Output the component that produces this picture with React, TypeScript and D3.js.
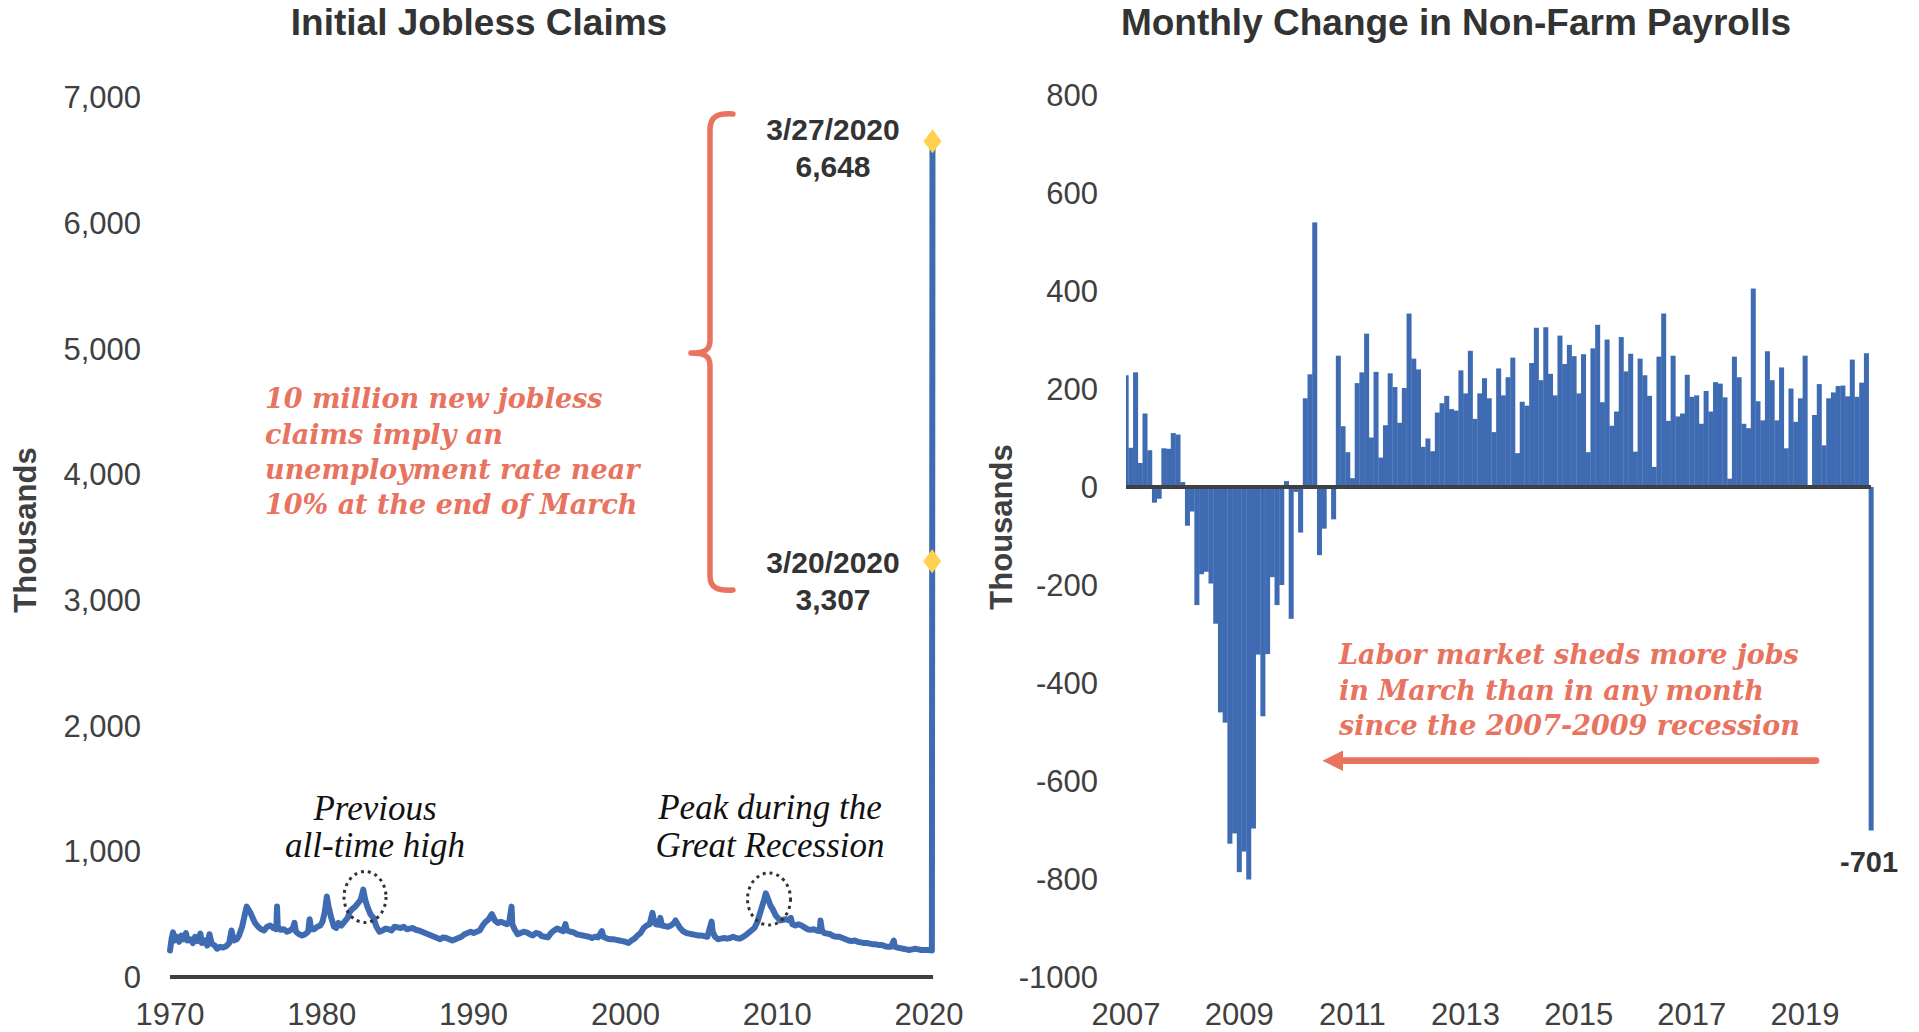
import React from 'react';
import * as d3 from 'd3';

// ---------- Data: Initial Jobless Claims (thousands) ----------
const claimsYears = [
  1970.00, 1970.10, 1970.20, 1970.30, 1970.45, 1970.60, 1970.75, 1970.90,
  1971.05, 1971.15, 1971.35, 1971.50, 1971.65, 1971.80,
  1972.00, 1972.10, 1972.30, 1972.45, 1972.60, 1972.75, 1972.95,
  1973.10, 1973.30, 1973.50, 1973.70, 1973.90,
  1974.05, 1974.20, 1974.40, 1974.55, 1974.75, 1974.90,
  1975.05, 1975.15, 1975.30, 1975.45, 1975.60, 1975.80,
  1976.00, 1976.20, 1976.40, 1976.60, 1976.80,
  1977.00, 1977.05, 1977.10, 1977.30, 1977.50, 1977.70, 1977.90,
  1978.10, 1978.20, 1978.30, 1978.50, 1978.70, 1978.90,
  1979.10, 1979.20, 1979.30, 1979.50, 1979.70, 1979.90,
  1980.05, 1980.20, 1980.33, 1980.45, 1980.60, 1980.80, 1980.95,
  1981.10, 1981.30, 1981.50, 1981.70, 1981.85,
  1982.00, 1982.20, 1982.40, 1982.55, 1982.73, 1982.85,
  1983.00, 1983.20, 1983.40, 1983.60, 1983.80,
  1984.00, 1984.20, 1984.40, 1984.60, 1984.80,
  1985.00, 1985.20, 1985.40, 1985.60, 1985.80,
  1986.00, 1986.20, 1986.40, 1986.60, 1986.80,
  1987.00, 1987.20, 1987.40, 1987.60, 1987.80,
  1988.00, 1988.20, 1988.40, 1988.60, 1988.80,
  1989.00, 1989.20, 1989.40, 1989.60, 1989.80,
  1990.00, 1990.20, 1990.40, 1990.60, 1990.80,
  1991.00, 1991.20, 1991.40, 1991.60, 1991.80,
  1992.00, 1992.20, 1992.35, 1992.50, 1992.55, 1992.70, 1992.90,
  1993.10, 1993.30, 1993.50, 1993.70, 1993.90,
  1994.10, 1994.30, 1994.50, 1994.70, 1994.90,
  1995.10, 1995.30, 1995.50, 1995.70, 1995.90,
  1996.05, 1996.15, 1996.40, 1996.60, 1996.80,
  1997.00, 1997.20, 1997.40, 1997.60, 1997.80,
  1998.00, 1998.20, 1998.45, 1998.55, 1998.80,
  1999.00, 1999.20, 1999.40, 1999.60, 1999.80,
  2000.00, 2000.20, 2000.40, 2000.60, 2000.80,
  2001.00, 2001.20, 2001.40, 2001.60, 2001.78, 2001.85,
  2002.00, 2002.20, 2002.30, 2002.40, 2002.60, 2002.80,
  2003.00, 2003.20, 2003.30, 2003.45, 2003.60, 2003.80,
  2004.00, 2004.20, 2004.40, 2004.60, 2004.80,
  2005.00, 2005.20, 2005.40, 2005.68, 2005.75, 2005.90,
  2006.10, 2006.30, 2006.50, 2006.70, 2006.90,
  2007.10, 2007.30, 2007.50, 2007.70, 2007.90,
  2008.10, 2008.30, 2008.50, 2008.70, 2008.85,
  2009.00, 2009.15, 2009.25, 2009.40, 2009.55, 2009.70, 2009.90,
  2010.05, 2010.20, 2010.40, 2010.60, 2010.80, 2010.90,
  2011.00, 2011.20, 2011.40, 2011.60, 2011.80,
  2012.00, 2012.20, 2012.40, 2012.60, 2012.80, 2012.85, 2012.95,
  2013.10, 2013.30, 2013.50, 2013.70, 2013.90,
  2014.10, 2014.30, 2014.50, 2014.70, 2014.90,
  2015.10, 2015.30, 2015.50, 2015.70, 2015.90,
  2016.10, 2016.30, 2016.50, 2016.70, 2016.90,
  2017.10, 2017.30, 2017.50, 2017.68, 2017.75, 2017.90,
  2018.10, 2018.30, 2018.50, 2018.70, 2018.90,
  2019.10, 2019.30, 2019.50, 2019.70, 2019.90,
  2020.10, 2020.19, 2020.21, 2020.23,
];
const claimsValues = [
  210, 300, 355, 290, 320, 280, 330, 300,
  350, 290, 300, 270, 320, 285,
  345, 270, 290, 250, 340, 265, 250,
  225, 240, 235, 245, 270,
  370, 290, 300, 330, 400, 480,
  560, 540, 510, 470, 430, 400,
  380, 370, 400, 410, 390,
  380, 560, 400, 375, 380, 360, 370,
  390, 430, 360, 340, 330, 340,
  360, 460, 380, 380, 400, 410,
  440, 520, 640, 560, 480, 400, 390,
  430, 410, 440, 470, 520,
  540, 560, 590, 610, 695, 620,
  560, 500, 470, 400, 360,
  370, 385, 380, 370, 400,
  395, 390, 400, 380, 385,
  390, 375, 370, 360, 350,
  340, 330, 320, 310, 300,
  315, 310, 300, 290, 300,
  310, 320, 340, 350, 360,
  350, 360, 370, 410, 440,
  460, 500, 450, 430, 440,
  430, 420, 440, 560, 420, 380, 340,
  350, 360, 355, 340, 330,
  350, 345, 325, 320, 315,
  350, 370, 385, 375, 365,
  420, 370, 360, 355, 340,
  335, 330, 325, 320, 310,
  320, 315, 365, 320, 305,
  300, 300, 295, 290, 285,
  280, 270, 290, 305, 330,
  350, 390, 410, 420, 510, 470,
  420, 415, 470, 410, 405, 400,
  410, 430, 450, 420, 390, 365,
  350, 345, 340, 335, 330,
  330, 325, 320, 440, 360, 320,
  300, 305, 310, 305, 310,
  320, 310, 305, 315, 330,
  350, 370, 390, 440, 500,
  560, 620, 665, 620, 570, 540, 490,
  470, 450, 455, 460, 450, 470,
  420, 410, 420, 410, 395,
  380, 375, 380, 370, 365, 450, 370,
  350, 345, 340, 325, 320,
  320, 310, 300, 290, 285,
  290, 280, 275, 270, 270,
  265, 260, 260, 255, 255,
  245, 240, 240, 290, 240, 235,
  230, 225, 220, 215, 220,
  225, 220, 215, 215, 215,
  212, 211, 3307, 6648,
];
const claimsMarkers = [
  { label: '3/20/2020', value: 3307, year: 2020.21, labelY: 573 },
  { label: '3/27/2020', value: 6648, year: 2020.23, labelY: 140 },
];
const claimsYTicks = [0, 1000, 2000, 3000, 4000, 5000, 6000, 7000];
const claimsXTicks = [1970, 1980, 1990, 2000, 2010, 2020];

// ---------- Data: Monthly change in non-farm payrolls (thousands), Jan 2007 - Mar 2020 ----------
const payrollStartYear = 2007;
const payrollValues = [
  // 2007
  228, 80, 234, 49, 150, 75, -32, -24, 79, 78, 110, 107,
  // 2008
  10, -79, -50, -241, -178, -173, -197, -279, -460, -481, -728, -707,
  // 2009
  -786, -744, -801, -697, -342, -468, -341, -184, -241, -200, 12, -269,
  // 2010
  -10, -93, 181, 230, 540, -139, -85, -3, -66, 268, 124, 71,
  // 2011
  18, 212, 234, 313, 101, 235, 60, 126, 232, 204, 131, 202,
  // 2012
  354, 262, 240, 82, 99, 73, 152, 171, 186, 159, 156, 238,
  // 2013
  191, 278, 139, 191, 222, 181, 112, 242, 187, 224, 264, 69,
  // 2014
  174, 166, 253, 325, 218, 326, 231, 187, 309, 251, 290, 267,
  // 2015
  191, 271, 71, 283, 331, 173, 301, 125, 154, 306, 236, 272,
  // 2016
  72, 262, 228, 186, 41, 266, 354, 135, 268, 144, 150, 229,
  // 2017
  184, 187, 129, 196, 154, 214, 211, 183, 17, 266, 224, 129,
  // 2018
  120, 405, 175, 136, 277, 218, 136, 244, 79, 201, 133, 181,
  // 2019
  268, 3, 147, 210, 85, 181, 193, 206, 207, 185, 260, 184,
  // 2020
  213, 273, -701,
];
const payrollYTicks = [800, 600, 400, 200, 0, -200, -400, -600, -800, -1000];
const payrollXTicks = [2007, 2009, 2011, 2013, 2015, 2017, 2019];

// ---------- Styles ----------
const BLUE = '#3F6BB3';
const RED = '#E8735F';
const YELLOW = '#FFD14F';
const DARK = '#333333';
const AXIS = '#404040';
const SANS = "'Liberation Sans', Arial, Helvetica, sans-serif";
const SERIF = "'Liberation Serif', 'Times New Roman', serif";
const RED_SERIF = "'DejaVu Serif', Georgia, serif";

export default function App() {
  // Left chart scales
  const xL = d3.scaleLinear().domain([1970, 2020]).range([170, 929]);
  const yL = d3.scaleLinear().domain([0, 7000]).range([977, 97]);
  const claimsPts: [number, number][] = claimsYears.map((yr, i) => [yr, claimsValues[i]]);
  const linePath = d3
    .line<[number, number]>()
    .x((d) => xL(d[0]))
    .y((d) => yL(d[1]))
    .curve(d3.curveLinear)(claimsPts) as string;
  const fmtL = d3.format(',');

  // Right chart scales
  const xR = d3.scaleLinear().domain([0, payrollValues.length - 1]).range([1126, 1871]);
  const yR = d3.scaleLinear().domain([-1000, 800]).range([977, 95]);
  const step = xR(1) - xR(0);
  const x0 = xR(0);

  const lastIdx = payrollValues.length - 1;

  return (
    <svg
      width={1919}
      height={1032}
      style={{ position: 'fixed', left: 0, top: 0, background: '#fff' }}
      xmlns="http://www.w3.org/2000/svg"
    >
      <rect x={0} y={0} width={1919} height={1032} fill="#fff" />

      {/* ===== Left chart ===== */}
      <text x={479} y={35} textAnchor="middle" fontFamily={SANS} fontWeight="bold" fontSize={37} fill={DARK}>
        Initial Jobless Claims
      </text>

      {claimsYTicks.map((t) => (
        <text key={'ly' + t} x={141} y={yL(t)} dy="0.36em" textAnchor="end" fontFamily={SANS} fontSize={31} fill={AXIS}>
          {fmtL(t)}
        </text>
      ))}
      {claimsXTicks.map((t) => (
        <text key={'lx' + t} x={xL(t)} y={1025} textAnchor="middle" fontFamily={SANS} fontSize={31} fill={AXIS}>
          {t}
        </text>
      ))}
      <text
        transform="translate(25,530) rotate(-90)"
        textAnchor="middle"
        dominantBaseline="central"
        fontFamily={SANS}
        fontWeight="bold"
        fontSize={31}
        fill={AXIS}
      >
        Thousands
      </text>

      <line x1={xL(1970)} x2={xL(2020.27)} y1={yL(0)} y2={yL(0)} stroke={AXIS} strokeWidth={4} />

      <path d={linePath} fill="none" stroke={BLUE} strokeWidth={6} strokeLinejoin="round" strokeLinecap="round" />

      {claimsMarkers.map((m) => {
        const cx = xL(m.year);
        const cy = yL(m.value);
        return (
          <path
            key={m.label}
            d={`M${cx},${cy - 12} L${cx + 9},${cy} L${cx},${cy + 12} L${cx - 9},${cy} Z`}
            fill={YELLOW}
          />
        );
      })}
      {claimsMarkers.map((m) => (
        <g key={'lab' + m.label} fontFamily={SANS} fontWeight="bold" fontSize={30} fill={DARK} textAnchor="middle">
          <text x={833} y={m.labelY}>{m.label}</text>
          <text x={833} y={m.labelY + 37}>{fmtL(m.value)}</text>
        </g>
      ))}

      {/* bracket */}
      <path
        d="M733,114 C718,113 710,116 710,130 L710,340 C710,350 705,353 691,353 M691,353 C705,353 710,356 710,366 L710,576 C710,588 718,591 733,590"
        fill="none"
        stroke={RED}
        strokeWidth={5.5}
        strokeLinecap="round"
        strokeLinejoin="round"
      />

      <g fontFamily={RED_SERIF} fontWeight="bold" fontStyle="italic" fontSize={27} fill={RED}>
        <text x={265} y={408}>10 million new jobless</text>
        <text x={265} y={444}>claims imply an</text>
        <text x={265} y={479}>unemployment rate near</text>
        <text x={265} y={514}>10% at the end of March</text>
      </g>

      <g fontFamily={SERIF} fontStyle="italic" fontSize={35} fill="#111" textAnchor="middle">
        <text x={375} y={820}>Previous</text>
        <text x={375} y={857}>all-time high</text>
        <text x={770} y={819}>Peak during the</text>
        <text x={770} y={857}>Great Recession</text>
      </g>

      <ellipse cx={365} cy={897} rx={21} ry={25.5} fill="none" stroke={DARK} strokeWidth={3} strokeDasharray="3 4" />
      <ellipse cx={769} cy={899} rx={21.5} ry={26} fill="none" stroke={DARK} strokeWidth={3} strokeDasharray="3 4" />

      {/* ===== Right chart ===== */}
      <text x={1456} y={35} textAnchor="middle" fontFamily={SANS} fontWeight="bold" fontSize={37} fill={DARK}>
        Monthly Change in Non-Farm Payrolls
      </text>

      {payrollYTicks.map((t) => (
        <text key={'ry' + t} x={1098} y={yR(t)} dy="0.36em" textAnchor="end" fontFamily={SANS} fontSize={31} fill={AXIS}>
          {t}
        </text>
      ))}
      {payrollXTicks.map((t) => (
        <text
          key={'rx' + t}
          x={xR((t - payrollStartYear) * 12)}
          y={1025}
          textAnchor="middle"
          fontFamily={SANS}
          fontSize={31}
          fill={AXIS}
        >
          {t}
        </text>
      ))}
      <text
        transform="translate(1001,527) rotate(-90)"
        textAnchor="middle"
        dominantBaseline="central"
        fontFamily={SANS}
        fontWeight="bold"
        fontSize={31}
        fill={AXIS}
      >
        Thousands
      </text>

      {payrollValues.map((v, i) => {
        const c = xR(i);
        const left = Math.max(x0, c - step / 2);
        const right = c + step / 2;
        const y1 = yR(Math.max(0, v));
        const y2 = yR(Math.min(0, v));
        return <rect key={'b' + i} x={left} y={y1} width={right - left + 0.3} height={Math.max(0.5, y2 - y1)} fill={BLUE} />;
      })}

      <line x1={x0} x2={xR(lastIdx)} y1={yR(0)} y2={yR(0)} stroke={AXIS} strokeWidth={4} />

      <text
        x={xR(lastIdx) - 2}
        y={yR(payrollValues[lastIdx]) + 42}
        textAnchor="middle"
        fontFamily={SANS}
        fontWeight="bold"
        fontSize={29}
        fill={DARK}
      >
        {payrollValues[lastIdx]}
      </text>

      <g fontFamily={RED_SERIF} fontWeight="bold" fontStyle="italic" fontSize={27} fill={RED}>
        <text x={1339} y={664}>Labor market sheds more jobs</text>
        <text x={1339} y={700}>in March than in any month</text>
        <text x={1339} y={735}>since the 2007-2009 recession</text>
      </g>

      <line x1={1338} x2={1816} y1={760.7} y2={760.7} stroke={RED} strokeWidth={6.7} strokeLinecap="round" />
      <path d="M1322.5,760.7 L1343,750.5 L1343,771 Z" fill={RED} />
    </svg>
  );
}
